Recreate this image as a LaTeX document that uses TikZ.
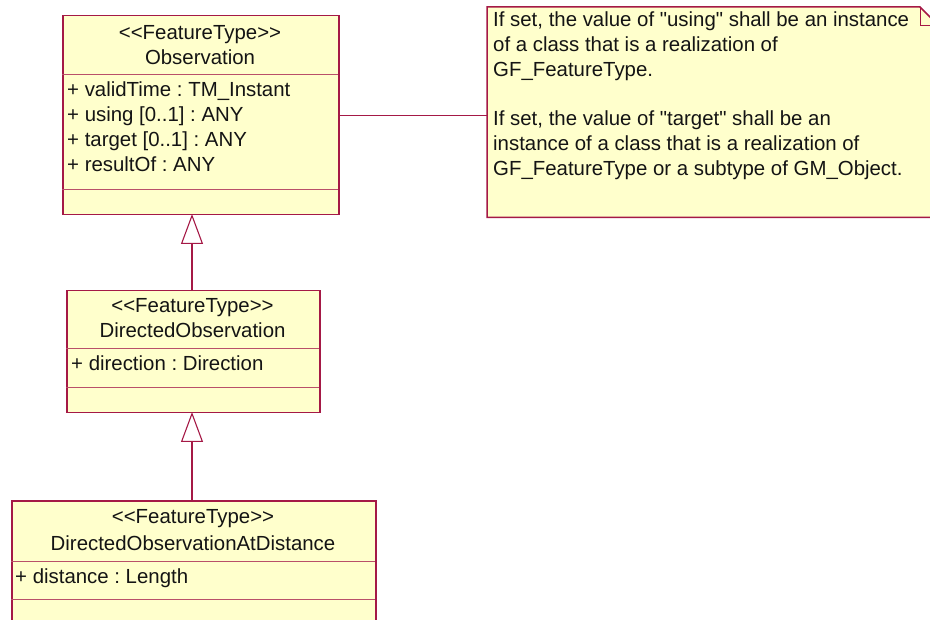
\documentclass[tikz,border=0pt]{standalone}
\usepackage{fontspec}
\setmainfont{Liberation Sans}[Ligatures=TeXOff]
\usetikzlibrary{arrows.meta}
\definecolor{umlborder}{RGB}{165,25,70}
\definecolor{umlfill}{RGB}{255,255,204}
\definecolor{umldiv}{RGB}{185,80,105}
\begin{document}
\frenchspacing
\begin{tikzpicture}[x=1pt,y=-1pt,
  box/.style={draw=umlborder, fill=umlfill, line width=1.5pt, inner sep=0pt, anchor=north west},
  divider/.style={draw=umldiv, line width=0.9pt},
  txt/.style={inner sep=0pt, font=\fontsize{20.4}{24.5}\selectfont\frenchspacing, text=black!92},
  gen/.style={draw=umlborder, line width=1.1pt, -{Triangle[open, width=22pt, length=30pt, line width=1.1pt]}},
  link/.style={draw=umlborder, line width=1.1pt}]
\useasboundingbox (0,0) rectangle (930,620);
\clip (0,0) rectangle (930,620);

% Observation
\node[box, minimum width=276pt, minimum height=199pt] (obs) at (62,15) {};
\draw[divider] (62,74) -- (338,74);
\draw[divider] (62,189) -- (338,189);
\node[txt, anchor=base] (obsst) at (200,40) {<\kern0pt<FeatureType>\kern0pt>};
\node[txt, anchor=base] (obsnm) at (200,65) {Observation};
\node[txt, anchor=base west] (a1) at (67,97) {+ validTime : TM\_Instant};
\node[txt, anchor=base west] (a2) at (67,122) {+ using [0..1] : ANY};
\node[txt, anchor=base west] (a3) at (67,147) {+ target [0..1] : ANY};
\node[txt, anchor=base west] (a4) at (67,172) {+ resultOf : ANY};

% DirectedObservation
\node[box, minimum width=253pt, minimum height=122pt] (dobs) at (66,290) {};
\draw[divider] (66,348) -- (319,348);
\draw[divider] (66,387) -- (319,387);
\node[txt, anchor=base] (dobsst) at (192.5,313) {<\kern0pt<FeatureType>\kern0pt>};
\node[txt, anchor=base] (dobsnm) at (192.5,338) {DirectedObservation};
\node[txt, anchor=base west] (b1) at (71,371) {+ direction : Direction};

% DirectedObservationAtDistance
\node[box, minimum width=364pt, minimum height=140pt] (doad) at (11,500) {};
\draw[divider] (11,561) -- (375,561);
\draw[divider] (11,599) -- (375,599);
\node[txt, anchor=base] (doadst) at (193,523) {<\kern0pt<FeatureType>\kern0pt>};
\node[txt, anchor=base] (doadnm) at (193,550) {DirectedObservationAtDistance};
\node[txt, anchor=base west] (c1) at (15,583) {+ distance : Length};

% Note
\node[inner sep=0pt, minimum width=451pt, minimum height=210pt, anchor=north west] (note) at (487,7) {};
\draw[umlborder, fill=umlfill, line width=1.5pt]
  (note.north west) -- (920,7) -- (938,25) -- (note.south east) -- (note.south west) -- cycle;
\draw[umlborder, line width=0.9pt] (920,7) -- (920,25) -- (938,25);
\node[txt, anchor=base west] (n1) at (493,27) {If set, the value of "using" shall be an instance};
\node[txt, anchor=base west] (n2) at (493,52) {of a class that is a realization of};
\node[txt, anchor=base west] (n3) at (493,77) {GF\_FeatureType.};
\node[txt, anchor=base west] (n5) at (493,126) {If set, the value of "target" shall be an};
\node[txt, anchor=base west] (n6) at (493,151) {instance of a class that is a realization of};
\node[txt, anchor=base west] (n7) at (493,176) {GF\_FeatureType or a subtype of GM\_Object.};

% Connectors
\draw[link] (obs.east) -- (obs.east -| note.west);
\draw[gen] (dobs.north -| 192,0) -- (192,214);
\draw[gen] (doad.north -| 192,0) -- (192,412);
\end{tikzpicture}
\end{document}
